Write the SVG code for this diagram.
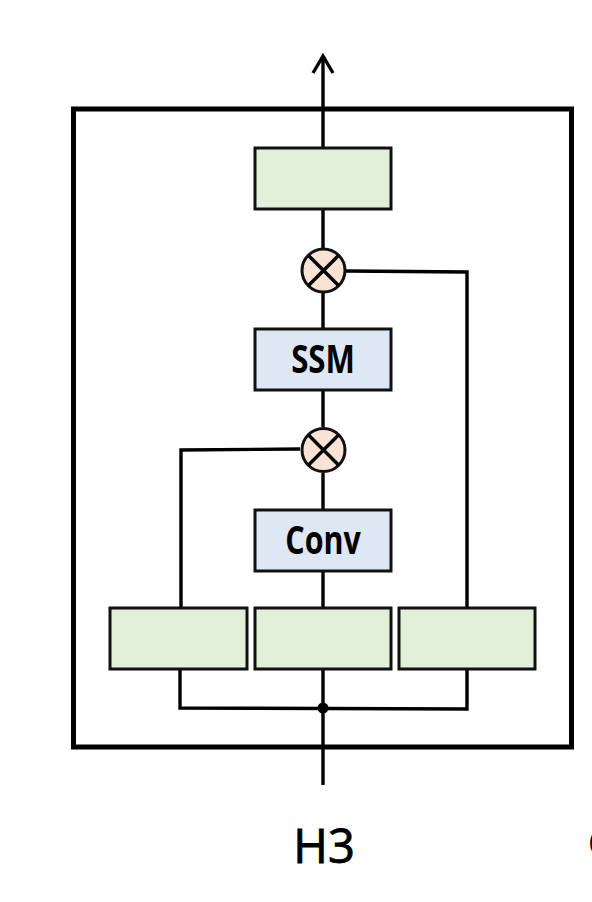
<svg xmlns="http://www.w3.org/2000/svg" width="592" height="902" viewBox="0 0 592 902">
<style>
.box{stroke:#111;stroke-width:3}
.g{fill:#e2efd9}
.b{fill:#dee8f4}
.mul{fill:#f9e3d4;stroke:#111;stroke-width:3}
.ln{fill:none;stroke:#000;stroke-width:3.4}
.lbl{font-family:"Open Sans","Noto Sans",sans-serif;font-weight:bold;font-size:39px;fill:#000;text-anchor:middle}
.cap{font-family:"Open Sans","Noto Sans",sans-serif;font-size:47px;fill:#000;stroke:#000;stroke-width:0.9;text-anchor:middle}
</style>
<rect width="592" height="902" fill="#fff"/>
<rect id="frame" x="73.5" y="109" width="498" height="638" fill="none" stroke="#000" stroke-width="5"/>
<g id="connectors">
<line class="ln" x1="323" y1="56" x2="323" y2="148"/>
<polyline class="ln" points="313,73 323,56 333,73"/>
<line class="ln" x1="323" y1="209" x2="323" y2="248"/>
<line class="ln" x1="323" y1="293" x2="323" y2="329"/>
<line class="ln" x1="323" y1="389" x2="323" y2="427"/>
<line class="ln" x1="323" y1="473" x2="323" y2="511"/>
<line class="ln" x1="323" y1="571" x2="323" y2="608"/>
<line class="ln" x1="323" y1="669" x2="323" y2="785"/>
<polyline class="ln" points="346,271 467,272 467,608"/>
<polyline class="ln" points="300,449 181,450 181,608"/>
<polyline class="ln" points="180,669 180,708 467,709 467,669"/>
<circle cx="323" cy="708" r="5.5" fill="#000"/>
</g>
<g id="out"><rect class="box g" x="255" y="148" width="136" height="61"/></g>
<g id="mul1"><circle class="mul" cx="323.5" cy="270.5" r="21.5"/><path class="ln" d="M308.5,255.5 L338.5,285.5 M338.5,255.5 L308.5,285.5" stroke-width="2.5"/></g>
<g id="ssm"><rect class="box b" x="255" y="329" width="136" height="61"/><text class="lbl" transform="translate(323,373) scale(0.8,1)">SSM</text></g>
<g id="mul2"><circle class="mul" cx="323.5" cy="450" r="21.5"/><path class="ln" d="M308.5,435 L338.5,465 M338.5,435 L308.5,465" stroke-width="2.5"/></g>
<g id="conv"><rect class="box b" x="255" y="510" width="136" height="61"/><text class="lbl" transform="translate(323,554) scale(0.78,1)">Conv</text></g>
<g id="p1"><rect class="box g" x="110" y="608" width="137" height="61"/></g>
<g id="p2"><rect class="box g" x="255" y="608" width="136" height="61"/></g>
<g id="p3"><rect class="box g" x="399" y="608" width="136" height="61"/></g>
<text class="cap" x="324" y="863">H3</text>
<text class="cap" x="588" y="856" style="text-anchor:start">c</text>
</svg>
